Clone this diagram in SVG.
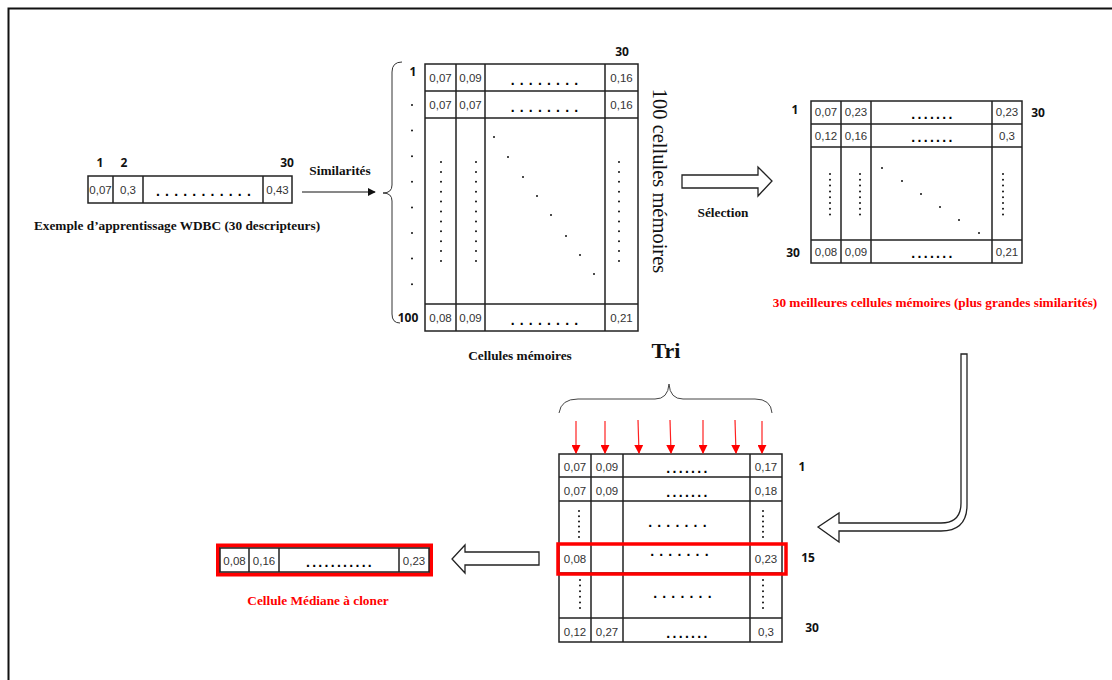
<svg xmlns="http://www.w3.org/2000/svg" width="1112" height="680" viewBox="0 0 1112 680">
<defs>
<style>
.g{fill:none;stroke:#222;stroke-width:1.5}
.v{font-family:"Liberation Sans",Arial,sans-serif;font-size:11.5px;fill:#333;text-anchor:middle}
.n{font-family:"Open Sans","Liberation Sans",sans-serif;font-size:12px;font-weight:bold;fill:#111;text-anchor:middle}
.c{font-family:"Liberation Serif","Times New Roman",serif;font-size:13.3px;font-weight:bold;fill:#111;text-anchor:middle}
.r{fill:#ff0000}
.hd{font-family:"Liberation Sans",Arial,sans-serif;font-size:14px;font-weight:bold;fill:#000;text-anchor:middle;letter-spacing:2.3px}
.hw{letter-spacing:5.2px}
.vd{stroke:#111;stroke-width:2;stroke-linecap:round;fill:none}
.blk{fill:#fff;stroke:#222;stroke-width:1.3}
.ra{stroke:#ff2020;stroke-width:1.2;fill:none}
</style>
<marker id="ah" viewBox="0 0 10 10" refX="9" refY="5" markerWidth="8" markerHeight="8" markerUnits="userSpaceOnUse" orient="auto"><path d="M0,0 L10,5 L0,10 Z" fill="#111"/></marker>
<marker id="rah" viewBox="0 0 10 10" refX="9" refY="5" markerWidth="9" markerHeight="9" markerUnits="userSpaceOnUse" orient="auto"><path d="M0,0 L10,5 L0,10 Z" fill="#ff0000"/></marker>
</defs>
<rect width="1112" height="680" fill="#fff"/>
<path d="M8.5,680 L8.5,8.5 L1112,8.5" fill="none" stroke="#111" stroke-width="2"/>

<g id="input">
<text class="n" x="100" y="167">1</text>
<text class="n" x="124" y="167">2</text>
<text class="n" x="287" y="167">30</text>
<rect class="g" x="88" y="176" width="204" height="27"/>
<path class="g" d="M113,176V203M143,176V203M263,176V203"/>
<text class="v" x="100.5" y="194">0,07</text>
<text class="v" x="128" y="194">0,3</text>
<text class="hd hw" x="206" y="196">...........</text>
<text class="v" x="277.5" y="194">0,43</text>
<text class="c" x="177" y="230">Exemple d’apprentissage WDBC (30 descripteurs)</text>
</g>

<g id="memory">
<path d="M402,62 Q392,62 392,72 L392,185 Q392,193 383,193 Q392,193 392,201 L392,314 Q392,323 400,323" fill="none" stroke="#333" stroke-width="1"/>
<text class="n" x="413" y="76">1</text>
<line class="vd" x1="412" y1="105" x2="412" y2="285" stroke-dasharray="0 25.6"/>
<text class="n" x="408" y="322">100</text>
<text class="n" x="622" y="56">30</text>
<rect class="g" x="425" y="64" width="213" height="267"/>
<path class="g" d="M456,64V331M485,64V331M605,64V331M425,91H638M425,118H638M425,304H638"/>
<text class="v" x="440.5" y="82">0,07</text>
<text class="v" x="470.5" y="82">0,09</text>
<text class="hd hw" x="547" y="85">........</text>
<text class="v" x="621.5" y="82">0,16</text>
<text class="v" x="440.5" y="109">0,07</text>
<text class="v" x="470.5" y="109">0,07</text>
<text class="hd hw" x="547" y="112">........</text>
<text class="v" x="621.5" y="109">0,16</text>
<line class="vd" x1="441" y1="162" x2="441" y2="261" stroke-dasharray="0 9.9"/>
<line class="vd" x1="476" y1="162" x2="476" y2="261" stroke-dasharray="0 9.9"/>
<line class="vd" x1="619" y1="162" x2="619" y2="261" stroke-dasharray="0 9.9"/>
<g fill="#111"><circle cx="494" cy="137" r="1"/><circle cx="508" cy="157" r="1"/><circle cx="523" cy="177" r="1"/><circle cx="537" cy="196" r="1"/><circle cx="551" cy="215" r="1"/><circle cx="566" cy="236" r="1"/><circle cx="580" cy="255" r="1"/><circle cx="594" cy="274" r="1"/></g>
<text class="v" x="440.5" y="322">0,08</text>
<text class="v" x="470.5" y="322">0,09</text>
<text class="hd hw" x="547" y="325">........</text>
<text class="v" x="621.5" y="322">0,21</text>
<text transform="translate(653,181) rotate(90)" font-family="'Liberation Serif','Times New Roman',serif" font-size="20.5" fill="#111" text-anchor="middle">100 cellules mémoires</text>
<text class="c" x="520" y="360">Cellules mémoires</text>
</g>

<g id="selected">
<text class="n" x="795" y="114">1</text>
<text class="n" x="1038" y="117">30</text>
<text class="n" x="793" y="257">30</text>
<rect class="g" x="811" y="101" width="211" height="162"/>
<path class="g" d="M841,101V263M871,101V263M992,101V263M811,124H1022M811,147H1022M811,240H1022"/>
<text class="v" x="826" y="116">0,07</text>
<text class="v" x="856" y="116">0,23</text>
<text class="hd" x="933" y="119">.......</text>
<text class="v" x="1007" y="116">0,23</text>
<text class="v" x="826" y="140">0,12</text>
<text class="v" x="856" y="140">0,16</text>
<text class="hd" x="933" y="142">.......</text>
<text class="v" x="1007" y="140">0,3</text>
<line class="vd" x1="830" y1="174" x2="830" y2="215" stroke-dasharray="0 5.8"/>
<line class="vd" x1="860" y1="174" x2="860" y2="215" stroke-dasharray="0 5.8"/>
<line class="vd" x1="1003" y1="174" x2="1003" y2="215" stroke-dasharray="0 5.8"/>
<g fill="#111"><circle cx="882" cy="168" r="1"/><circle cx="902" cy="181" r="1"/><circle cx="921" cy="194" r="1"/><circle cx="940" cy="207" r="1"/><circle cx="959" cy="220" r="1"/><circle cx="979" cy="233" r="1"/></g>
<text class="v" x="826" y="256">0,08</text>
<text class="v" x="856" y="256">0,09</text>
<text class="hd" x="933" y="258">.......</text>
<text class="v" x="1007" y="256">0,21</text>
<text class="c r" x="935" y="307">30 meilleures  cellules mémoires (plus grandes similarités)</text>
</g>

<g id="sorted">
<text x="666" y="358" font-family="'Liberation Serif','Times New Roman',serif" font-size="22" font-weight="bold" fill="#111" text-anchor="middle">Tri</text>
<path d="M559,413 Q561,399 578,399 L655,399 Q668,399 669,384 Q670,399 683,399 L755,399 Q771,399 772,413" fill="none" stroke="#444" stroke-width="1"/>
<text class="n" x="802" y="471">1</text>
<text class="n" x="808" y="562">15</text>
<text class="n" x="812" y="632">30</text>
<rect class="g" x="559" y="454" width="223" height="188"/>
<path class="g" d="M591,454V642M623,454V642M750,454V642M559,477H782M559,501H782M559,544H782M559,573H782M559,618H782"/>
<text class="v" x="575" y="471">0,07</text>
<text class="v" x="607" y="471">0,09</text>
<text class="hd" x="688" y="473">.......</text>
<text class="v" x="766" y="471">0,17</text>
<text class="v" x="575" y="495">0,07</text>
<text class="v" x="607" y="495">0,09</text>
<text class="hd" x="688" y="497">.......</text>
<text class="v" x="766" y="495">0,18</text>
<line class="vd" x1="579" y1="511" x2="579" y2="537" stroke-dasharray="0 5.2"/>
<line class="vd" x1="763" y1="511" x2="763" y2="537" stroke-dasharray="0 5.2"/>
<text class="hd hw" x="680" y="527">.......</text>
<text class="v" x="575" y="563">0,08</text>
<text class="hd hw" x="682" y="556">.......</text>
<text class="v" x="766" y="563">0,23</text>
<line class="vd" x1="580" y1="580" x2="580" y2="608" stroke-dasharray="0 5.6"/>
<line class="vd" x1="763" y1="580" x2="763" y2="608" stroke-dasharray="0 5.6"/>
<text class="hd hw" x="685" y="598">.......</text>
<text class="v" x="575" y="636">0,12</text>
<text class="v" x="607" y="636">0,27</text>
<text class="hd" x="688" y="638">.......</text>
<text class="v" x="766" y="636">0,3</text>
<rect x="558" y="544" width="228" height="30" fill="none" stroke="#ff0000" stroke-width="3.5"/>
</g>

<g id="median">
<rect x="218" y="545.5" width="213" height="29" fill="none" stroke="#ff0000" stroke-width="4"/>
<rect class="g" x="220" y="548" width="209" height="24"/>
<path class="g" d="M249,548V572M279,548V572M399,548V572"/>
<text class="v" x="234.5" y="565">0,08</text>
<text class="v" x="264" y="565">0,16</text>
<text class="hd" x="340" y="567">...........</text>
<text class="v" x="414" y="565">0,23</text>
<text class="c r" x="318" y="605">Cellule Médiane à cloner</text>
</g>

<g id="connectors">
<line x1="302" y1="192" x2="375" y2="192" stroke="#111" stroke-width="1" marker-end="url(#ah)"/>
<text class="c" x="340" y="175">Similarités</text>
<path class="blk" d="M682,175 L758,175 L758,167 L772,181 L758,196 L758,188 L682,188 Z"/>
<text class="c" x="723" y="217">Sélection</text>
<path class="blk" d="M961,354 L967,354 L967,505 Q967,531 941,531 L839,531 L839,542 L818,527 L839,513 L839,523 L941,523 Q961,523 961,503 Z"/>
<path class="blk" d="M539,552 L465,552 L465,545 L452,559 L465,573 L465,565 L539,565 Z"/>
<g class="ra">
<line x1="576" y1="421" x2="576" y2="453" marker-end="url(#rah)"/>
<line x1="605" y1="421" x2="605" y2="453" marker-end="url(#rah)"/>
<line x1="638" y1="420" x2="639" y2="453" marker-end="url(#rah)"/>
<line x1="670" y1="420" x2="671" y2="453" marker-end="url(#rah)"/>
<line x1="703" y1="420" x2="703" y2="453" marker-end="url(#rah)"/>
<line x1="735" y1="420" x2="736" y2="453" marker-end="url(#rah)"/>
<line x1="762" y1="421" x2="762" y2="453" marker-end="url(#rah)"/>
</g>
</g>
</svg>
